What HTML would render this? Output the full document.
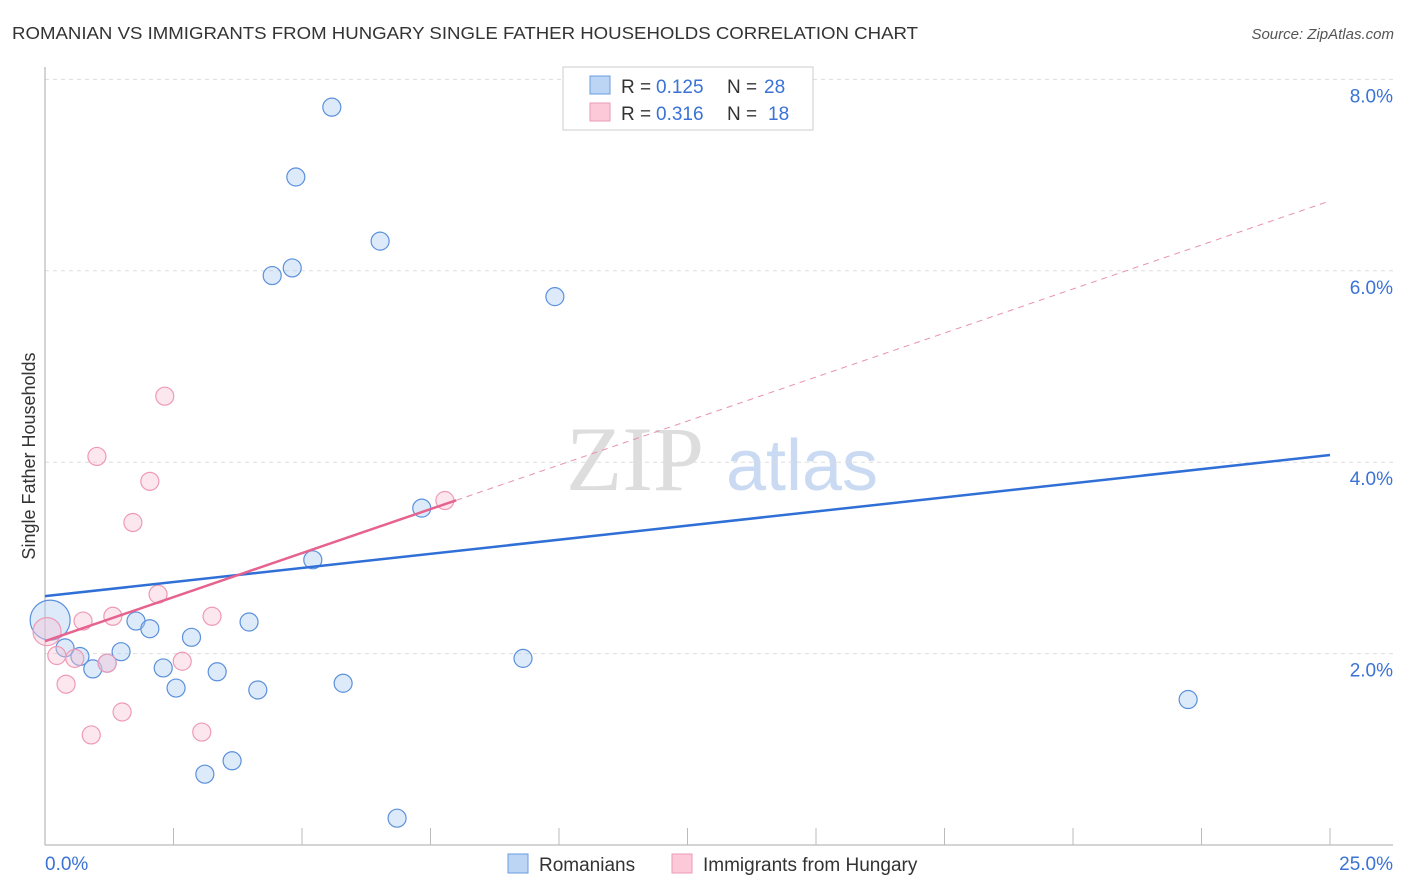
<!DOCTYPE html>
<html><head><meta charset="utf-8"><style>
body{margin:0;background:#fff;font-family:"Liberation Sans",sans-serif}
svg{display:block}
</style></head><body>
<svg id="c" width="1406" height="892">
<text x="12" y="39" font-size="17.5" fill="#333" textLength="906" lengthAdjust="spacingAndGlyphs">ROMANIAN VS IMMIGRANTS FROM HUNGARY SINGLE FATHER HOUSEHOLDS CORRELATION CHART</text>
<text x="1394" y="39" font-size="15" fill="#555" font-style="italic" text-anchor="end">Source: ZipAtlas.com</text>
<text x="35" y="456" font-size="18" fill="#333" text-anchor="middle" transform="rotate(-90 35 456)">Single Father Households</text>
<g><text x="635" y="490" font-size="92" fill="#ddd" font-family="Liberation Serif,serif" text-anchor="middle">ZIP</text><text x="802" y="490" font-size="72" fill="#c9daf2" text-anchor="middle">atlas</text></g>
<g id="grid"></g><g id="marks"></g>
<g>
<rect x="563" y="67" width="250" height="63" fill="#fff" stroke="#ccc"/>
<rect x="590" y="76" width="20" height="18" fill="#bcd5f5" stroke="#6a9be0"/>
<rect x="590" y="103" width="20" height="18" fill="#fbc9d8" stroke="#ee9ab5"/>
<text x="621" y="93" font-size="19" fill="#333">R =</text>
<text x="656" y="93" font-size="19" fill="#3a72d6">0.125</text>
<text x="727" y="93" font-size="19" fill="#333">N =</text>
<text x="764" y="93" font-size="19" fill="#3a72d6">28</text>
<text x="621" y="120" font-size="19" fill="#333">R =</text>
<text x="656" y="120" font-size="19" fill="#3a72d6">0.316</text>
<text x="727" y="120" font-size="19" fill="#333">N =</text>
<text x="768" y="120" font-size="19" fill="#3a72d6">18</text>
</g>
<g>
<rect x="508" y="854" width="20" height="19" fill="#bcd5f5" stroke="#6a9be0"/>
<text x="539" y="871" font-size="19" fill="#333">Romanians</text>
<rect x="672" y="854" width="20" height="19" fill="#fbc9d8" stroke="#ee9ab5"/>
<text x="703" y="871" font-size="19" fill="#333">Immigrants from Hungary</text>
</g>
</svg>
<script>
const yTicks=[2,4,6,8];
const yTickLabels=["2.0%","4.0%","6.0%","8.0%"];
const xEndLabels=["0.0%","25.0%"];
const romX=[0.1,0.39,0.68,0.93,1.21,1.48,1.77,2.04,2.3,2.55,2.85,3.11,3.35,3.64,3.97,4.14,4.42,4.81,4.88,5.21,5.58,5.8,6.52,6.85,7.33,9.3,9.92,22.24];
const romY=[2.35,2.06,1.97,1.84,1.9,2.02,2.34,2.26,1.85,1.64,2.17,0.74,1.81,0.88,2.33,1.62,5.95,6.03,6.98,2.98,7.71,1.69,6.31,0.28,3.52,1.95,5.73,1.52];
const romR=[20,9,9,9,9,9,9,9,9,9,9,9,9,9,9,9,9,9,9,9,9,9,9,9,9,9,9,9];
const hunX=[0.04,0.23,0.41,0.58,0.74,0.9,1.01,1.21,1.32,1.5,1.71,2.04,2.2,2.33,2.67,3.05,3.25,7.78];
const hunY=[2.23,1.98,1.68,1.95,2.34,1.15,4.06,1.9,2.39,1.39,3.37,3.8,2.62,4.69,1.92,1.18,2.39,3.6];
const hunR=[14,9,9,9,9,9,9,9,9,9,9,9,9,9,9,9,9,9];
const romTrend=[2.6,4.075];
const hunTrend=[2.13,0.184];
const NS="http://www.w3.org/2000/svg";
const X=v=>45+v*51.4, Y=v=>845-v*95.7;
function mk(t,a,p){const e=document.createElementNS(NS,t);for(const k in a)e.setAttribute(k,a[k]);p.appendChild(e);return e;}
const g=document.getElementById('grid'),m=document.getElementById('marks');
yTicks.forEach((t,i)=>{
 const l=mk('line',{x1:45,x2:1393,y1:Y(t),y2:Y(t),stroke:'#ddd','stroke-dasharray':'4,4'},g);
 
 
 const tx=mk('text',{x:1393,y:Y(t)+23,'font-size':19,fill:'#3a72d6','text-anchor':'end'},g);tx.textContent=yTickLabels[i];
 
 
});
mk('line',{x1:45,x2:45,y1:67,y2:845,stroke:'#aaa'},g);
mk('line',{x1:45,x2:1393,y1:845,y2:845,stroke:'#aaa'},g);
for(let i=1;i<=10;i++){mk('line',{x1:X(i*2.5),x2:X(i*2.5),y1:828,y2:845,stroke:'#bbb'},g);}
const xl0=mk('text',{x:45,y:870,'font-size':19,fill:'#3a72d6'},g);xl0.textContent=xEndLabels[0];


const xl1=mk('text',{x:1393,y:870,'font-size':19,fill:'#3a72d6','text-anchor':'end'},g);xl1.textContent=xEndLabels[1];


romX.forEach((x,i)=>{const c=mk('circle',{cx:X(x),cy:Y(romY[i]),r:romR[i],fill:'rgba(170,202,242,0.4)',stroke:'#5b90dc','stroke-width':1.2},m);
 
 });
hunX.forEach((x,i)=>{const c=mk('circle',{cx:X(x),cy:Y(hunY[i]),r:hunR[i],fill:'rgba(250,195,212,0.4)',stroke:'#ee9ab5','stroke-width':1.2},m);
 
 });
const bt=mk('line',{x1:X(0),y1:Y(romTrend[0]),x2:X(25),y2:Y(romTrend[1]),stroke:'#2f6fd6','stroke-width':2.5},m);


const pd=mk('line',{x1:X(8),y1:Y(hunTrend[0]+8*hunTrend[1]),x2:X(25),y2:Y(hunTrend[0]+25*hunTrend[1]),stroke:'#e891ac','stroke-width':1,'stroke-dasharray':'6,5'},m);


const pt=mk('line',{x1:X(0),y1:Y(hunTrend[0]),x2:X(8),y2:Y(hunTrend[0]+8*hunTrend[1]),stroke:'#e5638e','stroke-width':2.5},m);


</script>
</body></html>
